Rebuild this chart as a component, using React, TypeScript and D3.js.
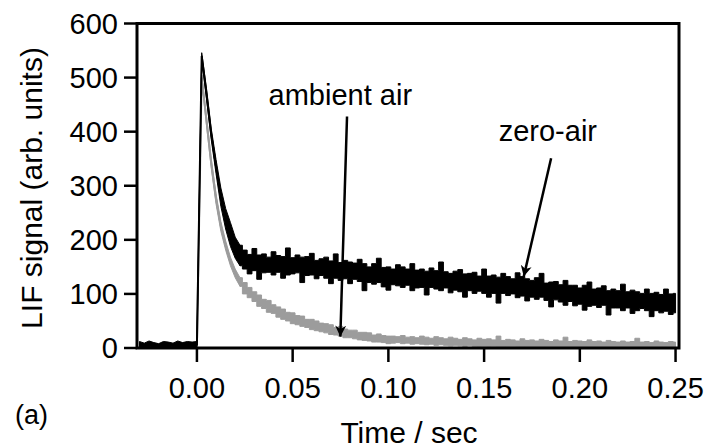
import React from "react";
import * as d3 from "d3";

// Sampling grid of the recorded traces (seconds)
const T_START = -0.03;
const T_STEP = 0.0025;

// zero-air trace (black): upper and lower edges of the noisy band, arb. units
const zeroAirHigh = [
  12, 9, 13, 10, 8, 12, 11, 9, 13, 10, 12, 11, 12,
  546, 480, 405, 348, 296, 258, 232, 205, 190,
  181, 173, 184, 172, 174, 168, 178, 171, 169, 185,
  167, 172, 168, 169, 175, 162, 165, 168, 161, 174,
  158, 162, 159, 157, 164, 156, 150, 156, 166, 149,
  150, 146, 154, 150, 146, 156, 144, 146, 142, 148,
  143, 159, 141, 138, 142, 145, 137, 138, 140, 133,
  146, 133, 135, 131, 138, 132, 128, 139, 132, 128,
  125, 130, 138, 120, 122, 123, 117, 125, 116, 116,
  111, 116, 122, 109, 111, 115, 106, 109, 106, 118,
  104, 107, 104, 101, 109, 101, 103, 99, 109, 100, 101,
];
const zeroAirLow = [
  2, 0, 3, 1, 2, 0, 1, 3, 0, 2, 1, 2, 1,
  534, 460, 385, 322, 262, 220, 188, 166, 152,
  146, 137, 143, 127, 139, 140, 135, 140, 129, 135,
  137, 139, 121, 134, 135, 128, 134, 129, 119, 129,
  125, 128, 119, 127, 123, 106, 121, 118, 121, 113,
  107, 117, 115, 112, 116, 106, 111, 112, 98, 112,
  109, 106, 111, 102, 107, 104, 94, 106, 101, 105,
  101, 94, 101, 83, 101, 97, 100, 93, 96, 87,
  94, 90, 94, 88, 76, 89, 85, 79, 86, 78,
  81, 70, 77, 79, 75, 79, 61, 74, 74, 69,
  74, 64, 69, 73, 69, 58, 69, 65, 68, 62, 65,
];

// ambient-air trace (grey): upper and lower edges of the noisy band
const ambientHigh = [
  9, 8, 10, 9, 8, 9, 10, 8, 9, 10, 9, 8, 9,
  505, 428, 350, 285, 234, 198, 168, 146, 130,
  121, 112, 104, 98, 90, 88, 80, 76, 72, 66,
  65, 60, 59, 53, 53, 50, 46, 45, 43, 38,
  40, 35, 33, 33, 29, 29, 28, 24, 26, 23, 22,
  22, 21, 23, 20, 21, 19, 22, 20, 18, 21,
  19, 17, 20, 18, 16, 19, 17, 15, 18, 16,
  17, 15, 22, 14, 16, 15, 13, 17, 14, 15,
  13, 16, 14, 12, 15, 13, 20, 12, 14, 13,
  12, 15, 12, 13, 11, 14, 12, 11, 13, 11,
  12, 18, 11, 12, 10, 13, 11, 10, 12, 11,
];
const ambientLow = [
  1, 0, 2, 1, 0, 1, 2, 0, 1, 2, 1, 0, 1,
  495, 412, 332, 266, 216, 181, 152, 130, 114,
  100, 93, 86, 77, 73, 66, 64, 57, 53, 50,
  45, 43, 40, 38, 34, 32, 30, 28, 25, 24,
  22, 19, 19, 17, 15, 14, 13, 11, 11, 10, 8,
  9, 10, 8, 9, 7, 8, 7, 6, 7, 5,
  6, 5, 4, 5, 4, 3, 4, 3, 2, 3,
  2, 3, 2, 1, 2, 3, 1, 2, 1, 2,
  0, 1, 2, 0, 1, 0, 1, 0, 0, 1,
  0, 0, 1, 0, 0, -1, 0, 0, -1, 0,
  0, -1, 0, 0, -1, 0, 0, -1, 0, 0,
];

const xTicks = [0, 0.05, 0.1, 0.15, 0.2, 0.25];
const yTicks = [0, 100, 200, 300, 400, 500, 600];

// annotations: label position and arrow (start -> tip) in data units
const annotations = [
  { label: "ambient air", lx: 0.0749, ly: 450, x0: 0.0784, y0: 428, x1: 0.0749, y1: 21 },
  { label: "zero-air", lx: 0.1833, ly: 382, x0: 0.185, y0: 351, x1: 0.1707, y1: 132 },
];

// index where the fast rise/decay ends and the noisy plateau begins
const SPLIT = 21;

const W = 711;
const H = 448;
const FONT = "'Liberation Sans', Arial, Helvetica, sans-serif";

export default function App() {
  const x = d3.scaleLinear().domain([-0.0313, 0.2518]).range([137, 679]);
  const y = d3.scaleLinear().domain([0, 600]).range([348, 23.5]);
  const tx = (i: number) => x(T_START + i * T_STEP);

  const bandPaths = (hi: number[], lo: number[]) => {
    const idx = hi.map((_, i) => i);
    const mk = (curve: d3.CurveFactory) =>
      d3
        .area<number>()
        .curve(curve)
        .x((i) => tx(i))
        .y0((i) => y(lo[i]))
        .y1((i) => y(hi[i]));
    const early = mk(d3.curveLinear)(idx.filter((i) => i <= SPLIT)) || "";
    const late = mk(d3.curveStep)(idx.filter((i) => i >= SPLIT)) || "";
    const mid =
      d3
        .line<number>()
        .x((i) => tx(i))
        .y((i) => y((hi[i] + lo[i]) / 2))(idx.filter((i) => i <= SPLIT + 1)) || "";
    return { early, late, mid };
  };

  const grey = "#9c9c9c";
  const ink = "#000";
  const amb = bandPaths(ambientHigh, ambientLow);
  const zero = bandPaths(zeroAirHigh, zeroAirLow);

  return (
    <svg
      width={W}
      height={H}
      style={{ position: "absolute", left: 0, top: 0, background: "#fff" }}
      fontFamily={FONT}
    >
      <defs>
        <marker
          id="arrowhead"
          viewBox="0 0 10 10"
          refX="10"
          refY="5"
          markerUnits="userSpaceOnUse"
          markerWidth="11"
          markerHeight="20"
          orient="auto"
        >
          <path d="M0,0 L10,5 L0,10 L3,5 Z" fill={ink} />
        </marker>
        <clipPath id="plotClip">
          <rect x={137} y={23.5} width={542} height={325} />
        </clipPath>
      </defs>

      <g clipPath="url(#plotClip)">
        <path d={amb.early} fill={grey} stroke={grey} strokeWidth={1} />
        <path d={amb.late} fill={grey} stroke={grey} strokeWidth={1} />
        <path d={amb.mid} fill="none" stroke={grey} strokeWidth={2} />
        <path d={zero.early} fill={ink} stroke={ink} strokeWidth={1} />
        <path d={zero.late} fill={ink} stroke={ink} strokeWidth={1} />
        <path d={zero.mid} fill="none" stroke={ink} strokeWidth={2} />
      </g>

      {/* frame */}
      <rect
        x={x.range()[0]}
        y={y.range()[1]}
        width={x.range()[1] - x.range()[0]}
        height={y.range()[0] - y.range()[1]}
        fill="none"
        stroke={ink}
        strokeWidth={3}
      />

      {/* y axis ticks */}
      {yTicks.map((v) => (
        <g key={"y" + v}>
          <line x1={124} x2={137} y1={y(v)} y2={y(v)} stroke={ink} strokeWidth={2.5} />
          <text x={118} y={y(v)} dy="0.36em" textAnchor="end" fontSize={29} fill={ink}>
            {d3.format("d")(v)}
          </text>
        </g>
      ))}

      {/* x axis ticks */}
      {xTicks.map((v) => (
        <g key={"x" + v}>
          <line x1={x(v)} x2={x(v)} y1={348} y2={362} stroke={ink} strokeWidth={2.5} />
          <text x={x(v)} y={398} textAnchor="middle" fontSize={29} fill={ink}>
            {d3.format(".2f")(v)}
          </text>
        </g>
      ))}

      {/* axis titles */}
      <text
        transform="translate(42,188) rotate(-90)"
        textAnchor="middle"
        fontSize={30}
        fill={ink}
      >
        LIF signal (arb. units)
      </text>
      <text x={409} y={443} textAnchor="middle" fontSize={30} fill={ink}>
        Time / sec
      </text>
      <text x={15} y={424} fontSize={27} fill={ink}>
        (a)
      </text>

      {/* annotations */}
      {annotations.map((a) => (
        <g key={a.label}>
          <text x={x(a.lx)} y={y(a.ly)} textAnchor="middle" fontSize={29} fill={ink}>
            {a.label}
          </text>
          <line
            x1={x(a.x0)}
            y1={y(a.y0)}
            x2={x(a.x1)}
            y2={y(a.y1)}
            stroke={ink}
            strokeWidth={2.5}
            markerEnd="url(#arrowhead)"
          />
        </g>
      ))}
    </svg>
  );
}
